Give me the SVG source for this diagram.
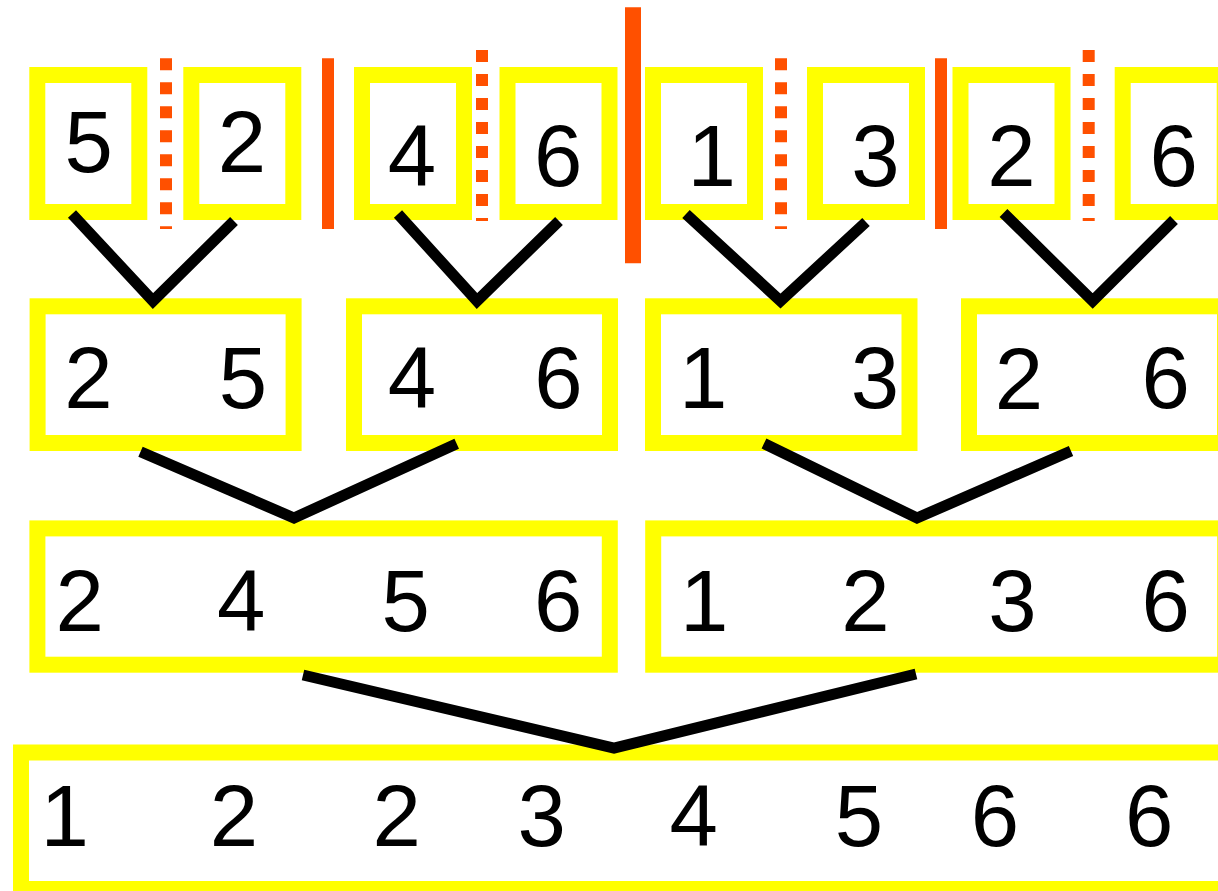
<svg xmlns="http://www.w3.org/2000/svg" width="1218" height="891" viewBox="0 0 1218 891">
<style>
.box{fill:#FFFFFF;stroke:#FFFF00;stroke-width:16}
.t{font-family:"Liberation Sans",Arial,sans-serif;font-size:87px;fill:#000000;text-anchor:middle}
.sep{stroke:#FF5000;fill:none}
.dot{stroke:#FF5000;stroke-width:12;stroke-dasharray:12 12;fill:none}
.con{stroke:#000000;stroke-width:11;fill:none;stroke-linejoin:miter;stroke-miterlimit:10}
</style>
<rect width="1218" height="891" fill="#FFFFFF"/>
<g id="separators">
<line class="dot" x1="166" y1="58.3" x2="166" y2="229"/>
<line class="dot" x1="482" y1="50" x2="482" y2="221"/>
<line class="dot" x1="781" y1="58.3" x2="781" y2="229"/>
<line class="dot" x1="1088.7" y1="50" x2="1088.7" y2="221"/>
<line class="sep" stroke-width="12" x1="328" y1="58.3" x2="328" y2="229"/>
<line class="sep" stroke-width="16" x1="633" y1="7.3" x2="633" y2="263.3"/>
<line class="sep" stroke-width="12" x1="941" y1="58.3" x2="941" y2="229"/>
</g>
<g id="r1n1"><rect class="box" x="37.3" y="75" width="102" height="137"/><text class="t" x="88.8" y="171.5">5</text></g>
<g id="r1n2"><rect class="box" x="191.3" y="75" width="102" height="137"/><text class="t" x="242" y="171.5">2</text></g>
<g id="r1n3"><rect class="box" x="362" y="75" width="102" height="137"/><text class="t" x="412" y="186">4</text></g>
<g id="r1n4"><rect class="box" x="507.5" y="75" width="102" height="137"/><text class="t" x="558.3" y="186">6</text></g>
<g id="r1n5"><rect class="box" x="653" y="75" width="102" height="137"/><text class="t" x="711.7" y="186">1</text></g>
<g id="r1n6"><rect class="box" x="815" y="75" width="102" height="137"/><text class="t" x="875.5" y="186">3</text></g>
<g id="r1n7"><rect class="box" x="960.5" y="75" width="102" height="137"/><text class="t" x="1011.5" y="186">2</text></g>
<g id="r1n8"><rect class="box" x="1122.7" y="75" width="102" height="137"/><text class="t" x="1173.8" y="186">6</text></g>
<g id="r2n1"><rect class="box" x="37.6" y="306.3" width="256" height="136.7"/><text class="t" x="88.4" y="407.7">2</text><text class="t" x="243" y="407.7">5</text></g>
<g id="r2n2"><rect class="box" x="354" y="306.3" width="256" height="136.7"/><text class="t" x="412" y="407.7">4</text><text class="t" x="558.5" y="407.7">6</text></g>
<g id="r2n3"><rect class="box" x="653" y="306.3" width="256.5" height="136.7"/><text class="t" x="703.2" y="407.7">1</text><text class="t" x="875" y="407.7">3</text></g>
<g id="r2n4"><rect class="box" x="969" y="306.3" width="256" height="136.7"/><text class="t" x="1019" y="409">2</text><text class="t" x="1165.7" y="407.7">6</text></g>
<g id="r3n1"><rect class="box" x="37.4" y="528.4" width="572.4" height="136.3"/><text class="t" x="79.6" y="631">2</text><text class="t" x="241.2" y="631">4</text><text class="t" x="405.7" y="631">5</text><text class="t" x="558.3" y="631">6</text></g>
<g id="r3n2"><rect class="box" x="653.2" y="528.4" width="572" height="136.3"/><text class="t" x="704.2" y="631">1</text><text class="t" x="865.4" y="631">2</text><text class="t" x="1012.5" y="631">3</text><text class="t" x="1165.8" y="631">6</text></g>
<g id="r4n1"><rect class="box" x="21" y="752.5" width="1210" height="136.5"/><text class="t" x="64.6" y="846">1</text><text class="t" x="233.9" y="846">2</text><text class="t" x="396.6" y="846">2</text><text class="t" x="541.6" y="846">3</text><text class="t" x="693.8" y="846">4</text><text class="t" x="859" y="846">5</text><text class="t" x="995" y="846">6</text><text class="t" x="1149.1" y="846">6</text></g>
<g id="connectors">
<polyline class="con" points="72,214 153,301 234,221"/>
<polyline class="con" points="398,214 477,301 559,221"/>
<polyline class="con" points="686,214 780.5,301 866,222"/>
<polyline class="con" points="1003.5,213 1092.7,301 1174,220"/>
<polyline class="con" points="140.5,451.7 294,518 456.7,443.7"/>
<polyline class="con" points="764,443.5 917,518 1071,451"/>
<polyline class="con" points="303,675 614,748 916,674"/>
</g>
</svg>
